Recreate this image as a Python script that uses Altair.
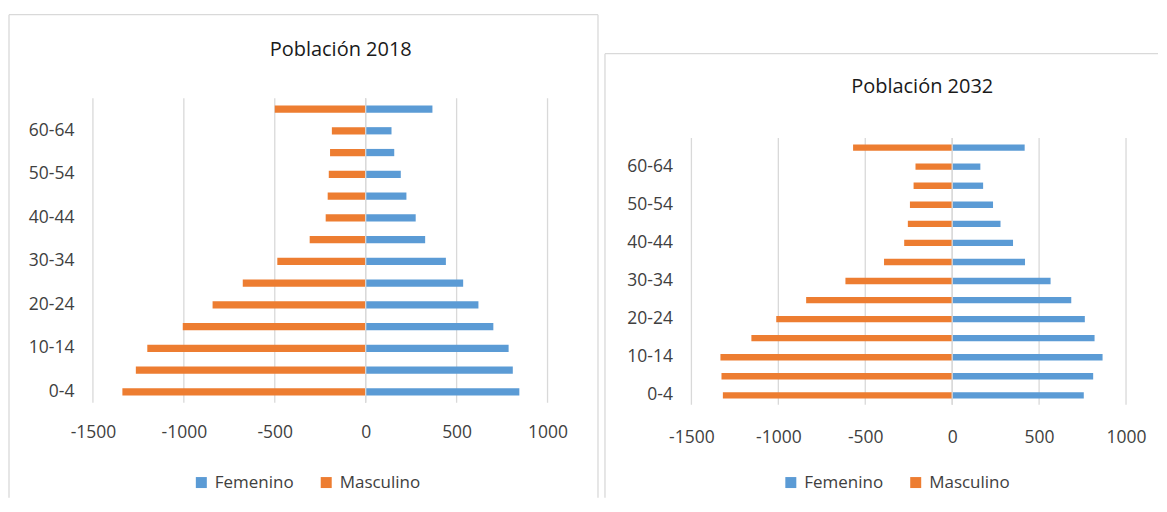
import altair as alt
import pandas as pd

# ---- data ----
ages = ["0-4", "5-9", "10-14", "15-19", "20-24", "25-29", "30-34",
        "35-39", "40-44", "45-49", "50-54", "55-59", "60-64", "65+"]
age_labels = ["0-4", "10-14", "20-24", "30-34", "40-44", "50-54", "60-64"]
x_ticks = [-1500, -1000, -500, 0, 500, 1000]
sexes = ["Femenino", "Masculino"]

fem_2018 = [845, 809, 786, 702, 620, 536, 441, 327, 275, 224, 193, 157, 142, 367]
mas_2018 = [-1338, -1264, -1201, -1006, -842, -676, -486, -308, -220, -209, -203, -196, -186, -500]
fem_2032 = [757, 811, 865, 819, 763, 685, 566, 419, 350, 278, 235, 178, 162, 417]
mas_2032 = [-1319, -1327, -1333, -1155, -1012, -840, -614, -392, -276, -255, -243, -222, -211, -570]

BLUE = "#5b9bd5"
ORANGE = "#ed7d31"
GRID = "#d9d9d9"
LABEL = "#404040"
FONT = "Open Sans"


def one():
    return alt.Chart(pd.DataFrame({"k": [0]}))


def panel(title, fem, mas, g):
    df = pd.DataFrame({
        "Edad": ages * 2,
        "Sexo": [sexes[0]] * len(ages) + [sexes[1]] * len(ages),
        "Poblacion": fem + mas,
    })
    xscale = alt.Scale(domain=[-1500, 1000], nice=False, zero=True)
    bars = alt.Chart(df).mark_bar().encode(
        x=alt.X("Poblacion:Q", stack=None, scale=xscale,
                axis=alt.Axis(values=x_ticks, title=None, grid=False, domain=False,
                              ticks=False, labelFlush=False, labelOverlap=False,
                              labelExpr="'' + datum.value",
                              labelPadding=g["xpad"], labelFont=FONT, labelFontSize=17.5,
                              labelColor=LABEL)),
        y=alt.Y("Edad:N", sort=ages[::-1],
                scale=alt.Scale(paddingInner=0.667, paddingOuter=0.333,
                                range=[g["y0"], g["y1"]]),
                axis=alt.Axis(values=age_labels, title=None, ticks=False, domain=False,
                              grid=False, labelPadding=19, labelFont=FONT,
                              labelFontSize=17.5, labelColor=LABEL)),
        color=alt.Color("Sexo:N",
                        scale=alt.Scale(domain=sexes, range=[BLUE, ORANGE]),
                        legend=alt.Legend(orient="none", legendX=g["lx"], legendY=g["ly"],
                                          direction="horizontal", title=None,
                                          symbolType="square", symbolSize=121,
                                          symbolStrokeWidth=0, labelFont=FONT,
                                          labelFontSize=17, labelColor=LABEL,
                                          labelOffset=5, columnPadding=24, padding=0)),
    )
    tick_df = pd.DataFrame({"v": x_ticks})
    grid = alt.Chart(tick_df).mark_rule(color=GRID, strokeWidth=1.3).encode(
        x=alt.X("v:Q", title=None), y=alt.value(g["y0"]), y2=alt.value(g["y1"]))
    zero = alt.Chart(pd.DataFrame({"v": [0]})).mark_rule(color=GRID, strokeWidth=1.3).encode(
        x=alt.X("v:Q", title=None), y=alt.value(g["y0"]), y2=alt.value(g["y1"]))
    frame = one().mark_rect(opacity=0).encode(
        x=alt.value(g["fx0"]), x2=alt.value(g["fx1"]),
        y=alt.value(g["fy0"]), y2=alt.value(g["fy1"]))
    borders = []
    for (x0, x1, y0, y1) in g["edges"]:
        borders.append(one().mark_rule(color=GRID, strokeWidth=1.3).encode(
            x=alt.value(x0), x2=alt.value(x1), y=alt.value(y0), y2=alt.value(y1)))
    ttl = alt.Chart(pd.DataFrame({"t": [title]})).mark_text(
        font=FONT, fontSize=20, color="#1a1a1a", align="center", baseline="alphabetic"
    ).encode(text="t:N", x=alt.value(g["tx"]), y=alt.value(g["ty"]))
    return alt.layer(frame, *borders, grid, bars, zero, ttl).properties(
        width=g["w"], height=g["h"])


# plot origins of both panels sit at page y = 98
left_geo = dict(w=455, h=305, y0=0, y1=305, xpad=21, lx=100, ly=376,
                fx0=-85, fx1=509, fy0=-90, fy1=400,
                edges=[(-84, 505.5, -83.5, -83.5), (-84, -84, -83.5, 400),
                       (505.5, 505.5, -83.5, 400)],
                tx=248, ty=-42)
right_geo = dict(w=435, h=307, y0=40, y1=307, xpad=24, lx=91, ly=376,
                 fx0=-90, fx1=467, fy0=-90, fy1=400,
                 edges=[(-86.5, 467, -44.5, -44.5), (-86.5, -86.5, -44.5, 400)],
                 tx=231, ty=-5)

left = panel("Población 2018", fem_2018, mas_2018, left_geo)
right = panel("Población 2032", fem_2032, mas_2032, right_geo)

chart = alt.hconcat(left, right, spacing=0).resolve_scale(color="independent").properties(
    padding=0
).configure_view(strokeWidth=0)

chart.save("out.html", embed_options={"renderer": "svg", "actions": False})
